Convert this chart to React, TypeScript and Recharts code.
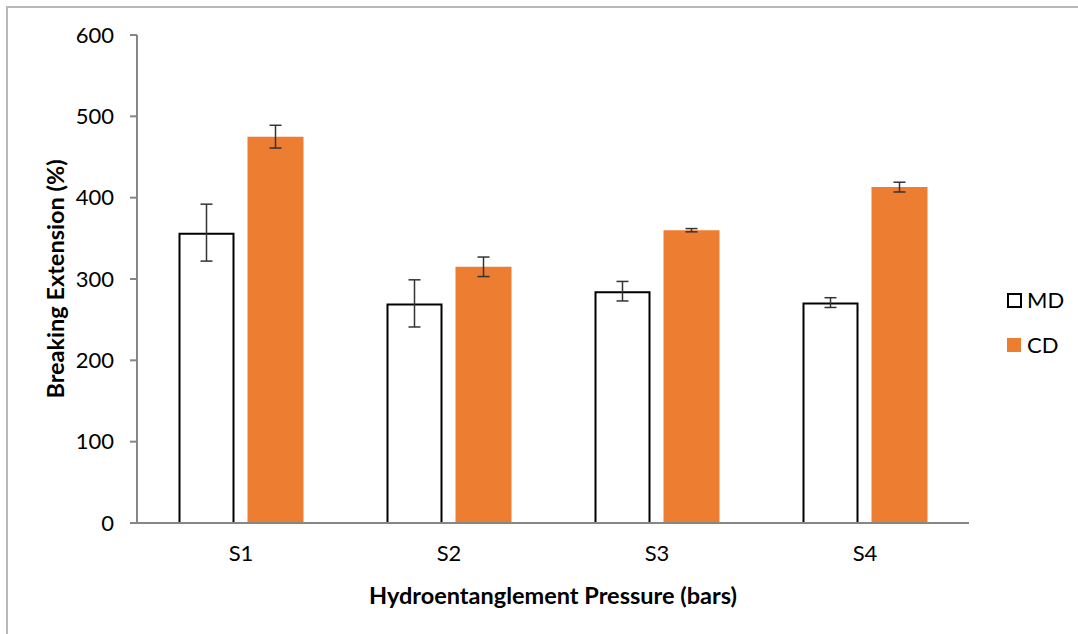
import React from 'react';
import { BarChart, Bar, XAxis, YAxis, ErrorBar, Label } from 'recharts';

const categories = ['S1', 'S2', 'S3', 'S4'];
const mdValues = [357, 270, 285, 271];
const mdErrors = [35, 29, 12, 6];
const cdValues = [475, 315, 360, 413];
const cdErrors = [14, 12, 2, 6];
const yTicks = [0, 100, 200, 300, 400, 500, 600];
const seriesNames = ['MD', 'CD'];

const data = categories.map((c, i) => ({
  name: c,
  MD: mdValues[i],
  mdErr: mdErrors[i],
  CD: cdValues[i],
  cdErr: cdErrors[i],
}));

const FONT = 'Lato, "Open Sans", sans-serif';
const AXIS = '#868686';
const ORANGE = '#ED7D31';

const OpenBar = (props: any) => {
  const { x, y, width, height } = props;
  if (height == null || width == null) return null;
  const d = `M${x + 1},${y + height} L${x + 1},${y + 1} L${x + width - 1},${y + 1} L${x + width - 1},${y + height}`;
  return <path d={d} fill="#ffffff" stroke="#000000" strokeWidth={2} />;
};

const LegendBox = () => (
  <div style={{ position: 'absolute', left: 1007, top: 288, fontFamily: FONT, fontSize: 22, color: '#000', lineHeight: '24px' }}>
    <div style={{ display: 'flex', alignItems: 'center', height: 24, marginBottom: 21 }}>
      <span style={{ display: 'inline-block', width: 11, height: 11, border: '2px solid #000', background: '#fff', marginRight: 5 }} />
      <span>{seriesNames[0]}</span>
    </div>
    <div style={{ display: 'flex', alignItems: 'center', height: 24 }}>
      <span style={{ display: 'inline-block', width: 14, height: 14, background: ORANGE, marginRight: 6 }} />
      <span>{seriesNames[1]}</span>
    </div>
  </div>
);

const YLabel = (props: any) => {
  const vb = props.viewBox || {};
  const cx = vb.x + 55;
  const cy = vb.y + vb.height / 2;
  return (
    <text x={cx} y={cy} transform={`rotate(-90, ${cx}, ${cy})`} textAnchor="middle" dominantBaseline="central"
      style={{ fontFamily: FONT, fontSize: 23.5, fontWeight: 700, fill: '#000' }}>
      Breaking Extension (%)
    </text>
  );
};

const XLabel = (props: any) => {
  const vb = props.viewBox || {};
  const cx = vb.x + vb.width / 2;
  const cy = vb.y + 72;
  return (
    <text x={cx} y={cy} textAnchor="middle" dominantBaseline="central"
      style={{ fontFamily: FONT, fontSize: 23.5, fontWeight: 700, fill: '#000' }}>
      Hydroentanglement Pressure (bars)
    </text>
  );
};

export default function App() {
  return (
    <div style={{ position: 'absolute', left: 0, top: 0, width: 1078, height: 634, overflow: 'hidden', background: '#fff' }}>
      <div style={{ position: 'absolute', left: 6, top: 6, width: 1200, height: 800, borderLeft: '2px solid #b8b8b8', borderTop: '2px solid #b8b8b8' }} />
      <div style={{ position: 'absolute', left: 0, top: 0 }}>
        <BarChart
          width={1078}
          height={634}
          data={data}
          margin={{ top: 35, right: 109, left: 0, bottom: 0 }}
          barCategoryGap={41.5}
          barGap={13}
        >
          <XAxis
            dataKey="name"
            height={111}
            tickLine={false}
            axisLine={{ stroke: AXIS, strokeWidth: 2 }}
            tick={{ fill: '#000', fontSize: 22, fontFamily: FONT }}
            tickMargin={22}
            tickSize={0}
          >
            <Label content={<XLabel />} />
          </XAxis>
          <YAxis
            width={137}
            domain={[0, 600]}
            ticks={yTicks}
            interval={0}
            tickSize={7}
            tickMargin={16}
            axisLine={{ stroke: AXIS, strokeWidth: 2 }}
            tickLine={{ stroke: AXIS, strokeWidth: 2 }}
            tick={{ fill: '#000', fontSize: 22, fontFamily: FONT }}
          >
            <Label content={<YLabel />} />
          </YAxis>
          <Bar dataKey="MD" name={seriesNames[0]} fill="#ffffff" shape={<OpenBar />} isAnimationActive={false}>
            <ErrorBar dataKey="mdErr" width={6} stroke="#333333" strokeWidth={1.5} direction="y" />
          </Bar>
          <Bar dataKey="CD" name={seriesNames[1]} fill={ORANGE} isAnimationActive={false}>
            <ErrorBar dataKey="cdErr" width={6} stroke="#333333" strokeWidth={1.5} direction="y" />
          </Bar>
        </BarChart>
      </div>
      <LegendBox />
    </div>
  );
}
